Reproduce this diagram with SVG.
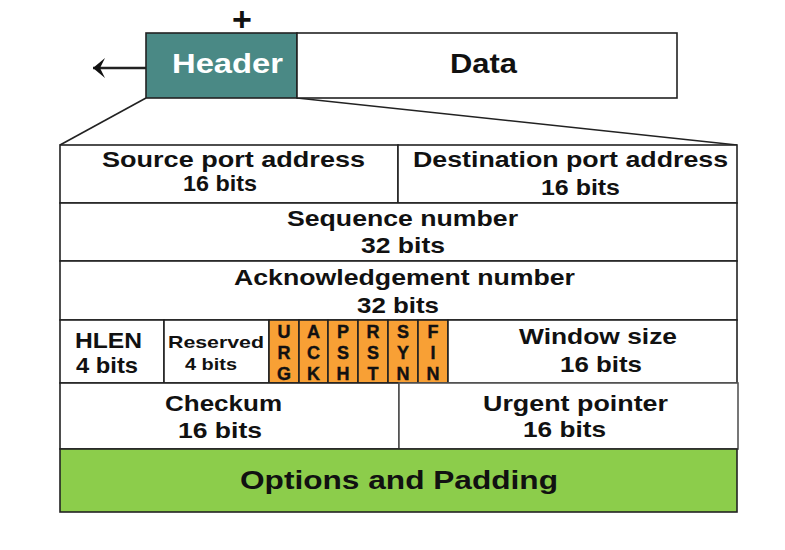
<svg xmlns="http://www.w3.org/2000/svg" width="785" height="550" viewBox="0 0 785 550">
<style>
  text { font-family: "Liberation Sans", Arial, sans-serif; font-weight: bold; fill: #111; }
  .cell { fill: #ffffff; stroke: #222; stroke-width: 1.6; }
  .flag { fill: #f8a035; stroke: #222; stroke-width: 1.6; }
  .f22 { font-size: 22px; }
  .f17 { font-size: 17px; }
  .fl { font-size: 18px; text-anchor: middle; stroke: #111; stroke-width: 0.4; }
  .conn { stroke: #222; stroke-width: 1.6; fill: none; }
</style>
<defs>
  <marker id="ah" markerWidth="13" markerHeight="22" refX="12" refY="11" orient="auto" markerUnits="userSpaceOnUse">
    <path d="M12,11 L0,1 L5,11 L0,21 Z" fill="#111"/>
  </marker>
</defs>
<rect x="0" y="0" width="785" height="550" fill="#ffffff"/>

<g id="plus">
  <text x="242" y="31" style="font-size:34px" text-anchor="middle">+</text>
</g>

<g id="connectors">
  <line class="conn" x1="146" y1="68" x2="93" y2="68" style="stroke-width:2.4" marker-end="url(#ah)"/>
  <line class="conn" x1="146" y1="98" x2="60" y2="145"/>
  <line class="conn" x1="297" y1="98" x2="737" y2="145"/>
</g>

<g id="header">
  <rect x="146" y="33" width="151" height="65" fill="#4a8985" stroke="#222" stroke-width="1.6"/>
  <text x="172" y="73" style="font-size:28px;fill:#ffffff" textLength="111" lengthAdjust="spacingAndGlyphs">Header</text>
</g>
<g id="data">
  <rect x="297" y="33" width="380" height="65" class="cell"/>
  <text x="450" y="73" style="font-size:28px" textLength="67" lengthAdjust="spacingAndGlyphs">Data</text>
</g>

<g id="source-port">
  <rect x="60" y="145" width="338" height="58" class="cell"/>
  <text class="f22" x="102" y="167" textLength="263" lengthAdjust="spacingAndGlyphs">Source port address</text>
  <text class="f22" x="183" y="191" textLength="74" lengthAdjust="spacingAndGlyphs">16 bits</text>
</g>
<g id="destination-port">
  <rect x="398" y="145" width="339" height="58" class="cell"/>
  <text class="f22" x="413" y="167" textLength="315" lengthAdjust="spacingAndGlyphs">Destination port address</text>
  <text class="f22" x="541" y="195" textLength="79" lengthAdjust="spacingAndGlyphs">16 bits</text>
</g>
<g id="sequence">
  <rect x="60" y="203" width="677" height="58" class="cell"/>
  <text class="f22" x="287" y="226" textLength="231" lengthAdjust="spacingAndGlyphs">Sequence number</text>
  <text class="f22" x="361" y="253" textLength="84" lengthAdjust="spacingAndGlyphs">32 bits</text>
</g>
<g id="acknowledgement">
  <rect x="60" y="261" width="677" height="59" class="cell"/>
  <text class="f22" x="234" y="285" textLength="341" lengthAdjust="spacingAndGlyphs">Acknowledgement number</text>
  <text class="f22" x="357" y="313" textLength="82" lengthAdjust="spacingAndGlyphs">32 bits</text>
</g>
<g id="hlen">
  <rect x="60" y="320" width="104" height="63" class="cell"/>
  <text class="f22" x="75" y="348" textLength="67" lengthAdjust="spacingAndGlyphs">HLEN</text>
  <text class="f22" x="76" y="373" textLength="62" lengthAdjust="spacingAndGlyphs">4 bits</text>
</g>
<g id="reserved">
  <rect x="164" y="320" width="105" height="63" class="cell"/>
  <text class="f17" x="168" y="348" textLength="96" lengthAdjust="spacingAndGlyphs">Reserved</text>
  <text class="f17" x="185" y="370" textLength="52" lengthAdjust="spacingAndGlyphs">4 bits</text>
</g>
<g id="urg">
  <rect x="269" y="320" width="30" height="63" class="flag"/>
  <text class="fl" x="284" y="338">U</text><text class="fl" x="284" y="359">R</text><text class="fl" x="284" y="380">G</text>
</g>
<g id="ack">
  <rect x="299" y="320" width="29" height="63" class="flag"/>
  <text class="fl" x="313.5" y="338">A</text><text class="fl" x="313.5" y="359">C</text><text class="fl" x="313.5" y="380">K</text>
</g>
<g id="psh">
  <rect x="328" y="320" width="30" height="63" class="flag"/>
  <text class="fl" x="343" y="338">P</text><text class="fl" x="343" y="359">S</text><text class="fl" x="343" y="380">H</text>
</g>
<g id="rst">
  <rect x="358" y="320" width="30" height="63" class="flag"/>
  <text class="fl" x="373" y="338">R</text><text class="fl" x="373" y="359">S</text><text class="fl" x="373" y="380">T</text>
</g>
<g id="syn">
  <rect x="388" y="320" width="30" height="63" class="flag"/>
  <text class="fl" x="403" y="338">S</text><text class="fl" x="403" y="359">Y</text><text class="fl" x="403" y="380">N</text>
</g>
<g id="fin">
  <rect x="418" y="320" width="30" height="63" class="flag"/>
  <text class="fl" x="433" y="338">F</text><text class="fl" x="433" y="359">I</text><text class="fl" x="433" y="380">N</text>
</g>
<g id="window-size">
  <rect x="448" y="320" width="289" height="63" class="cell"/>
  <text class="f22" x="519" y="344" textLength="158" lengthAdjust="spacingAndGlyphs">Window size</text>
  <text class="f22" x="560" y="372" textLength="82" lengthAdjust="spacingAndGlyphs">16 bits</text>
</g>
<g id="checksum">
  <rect x="60" y="383" width="339" height="66" class="cell"/>
  <text class="f22" x="165" y="411" textLength="117" lengthAdjust="spacingAndGlyphs">Checkum</text>
  <text class="f22" x="178" y="438" textLength="84" lengthAdjust="spacingAndGlyphs">16 bits</text>
</g>
<g id="urgent-pointer">
  <rect x="399" y="383" width="339" height="66" class="cell" style="stroke:#555"/>
  <text class="f22" x="483" y="411" textLength="185" lengthAdjust="spacingAndGlyphs">Urgent pointer</text>
  <text class="f22" x="523" y="437" textLength="83" lengthAdjust="spacingAndGlyphs">16 bits</text>
</g>
<g id="options-padding">
  <rect x="60" y="449" width="677" height="63" fill="#8ccd4b" stroke="#222" stroke-width="1.6"/>
  <text x="240" y="489" style="font-size:26px" textLength="318" lengthAdjust="spacingAndGlyphs">Options and Padding</text>
</g>
</svg>
